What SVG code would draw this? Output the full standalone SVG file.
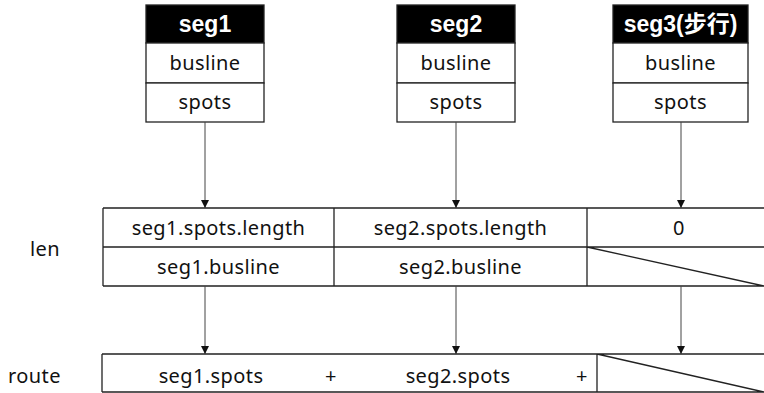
<svg xmlns="http://www.w3.org/2000/svg" width="764" height="393" viewBox="0 0 764 393">
  <style>
    .cell { fill: #fff; stroke: #222; stroke-width: 1.3; }
    .head { fill: #000; stroke: #222; stroke-width: 1.3; }
    .ht { font-family: "Liberation Sans", Arial, "Noto Sans CJK SC", sans-serif; font-weight: bold; font-size: 23px; fill: #fff; text-anchor: middle; }
    .t { font-family: "Noto Sans", "Open Sans", sans-serif; font-size: 20px; letter-spacing: 0.4px; fill: #111; text-anchor: middle; }
    .lbl { font-family: "Noto Sans", "Open Sans", sans-serif; font-size: 20px; letter-spacing: 0.4px; fill: #111; }
    .grid { fill: none; stroke: #222; stroke-width: 1.3; }
    .conn { stroke: #444; stroke-width: 1; fill: none; marker-end: url(#arrow); }
  </style>
  <defs>
    <marker id="arrow" viewBox="0 0 10 10" refX="10" refY="5" markerWidth="8" markerHeight="8" markerUnits="userSpaceOnUse" orient="auto">
      <path d="M0,0 L10,5 L0,10 z" fill="#111"/>
    </marker>
  </defs>

  <rect width="764" height="393" fill="#fff"/>

  <!-- segment records -->
  <g id="seg1">
    <rect class="head" x="146" y="5" width="118" height="38"/>
    <text class="ht" x="205" y="32">seg1</text>
    <rect class="cell" x="146" y="43" width="118" height="40"/>
    <text class="t" x="205" y="70">busline</text>
    <rect class="cell" x="146" y="83" width="118" height="39"/>
    <text class="t" x="205" y="109">spots</text>
  </g>
  <g id="seg2">
    <rect class="head" x="397" y="5" width="118" height="38"/>
    <text class="ht" x="456" y="32">seg2</text>
    <rect class="cell" x="397" y="43" width="118" height="40"/>
    <text class="t" x="456" y="70">busline</text>
    <rect class="cell" x="397" y="83" width="118" height="39"/>
    <text class="t" x="456" y="109">spots</text>
  </g>
  <g id="seg3">
    <rect class="head" x="613" y="5" width="135" height="38"/>
    <text class="ht" x="680.5" y="32">seg3(步行)</text>
    <rect class="cell" x="613" y="43" width="135" height="40"/>
    <text class="t" x="680.5" y="70">busline</text>
    <rect class="cell" x="613" y="83" width="135" height="39"/>
    <text class="t" x="680.5" y="109">spots</text>
  </g>

  <!-- len table -->
  <g id="len">
    <text class="lbl" x="30" y="256">len</text>
    <path class="grid" d="M103,208 H772 M103,247 H772 M103,286 H772 M103,208 V286 M334,208 V286 M587,208 V286 M587,247 L764,286"/>
    <text class="t" x="218.5" y="235">seg1.spots.length</text>
    <text class="t" x="460.5" y="235">seg2.spots.length</text>
    <text class="t" x="679" y="235">0</text>
    <text class="t" x="218.5" y="274">seg1.busline</text>
    <text class="t" x="460.5" y="274">seg2.busline</text>
  </g>

  <!-- route table -->
  <g id="route">
    <text class="lbl" x="8" y="383">route</text>
    <path class="grid" d="M102,354 H772 M102,392 H772 M102,354 V392 M597,354 V392 M597,354 L764,392"/>
    <text class="t" x="211" y="383">seg1.spots</text>
    <text class="t" x="331" y="383">+</text>
    <text class="t" x="458" y="383">seg2.spots</text>
    <text class="t" x="582" y="383">+</text>
  </g>

  <!-- connectors -->
  <g id="connectors">
    <line class="conn" x1="205" y1="122" x2="205" y2="208"/>
    <line class="conn" x1="456" y1="122" x2="456" y2="208"/>
    <line class="conn" x1="681" y1="122" x2="681" y2="208"/>
    <line class="conn" x1="205" y1="286" x2="205" y2="354"/>
    <line class="conn" x1="456" y1="286" x2="456" y2="354"/>
    <line class="conn" x1="681" y1="286" x2="681" y2="354"/>
  </g>
</svg>
